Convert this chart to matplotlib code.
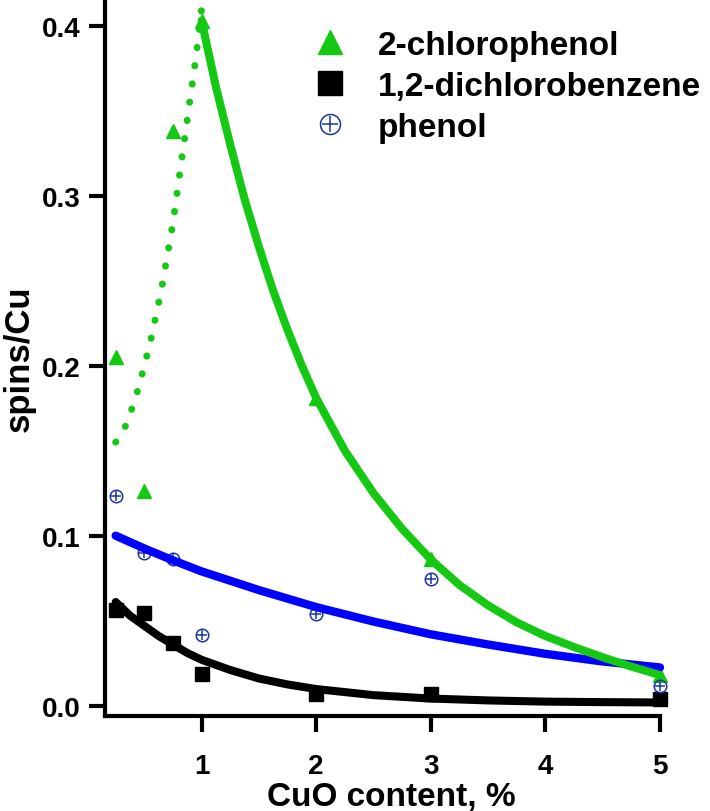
import matplotlib
matplotlib.use("Agg")
import matplotlib.pyplot as plt
from matplotlib.lines import Line2D
from matplotlib.legend_handler import HandlerTuple

plt.rcParams['font.family'] = ['Liberation Sans', 'DejaVu Sans']
plt.rcParams['font.weight'] = 'bold'

# measured data
x_pts = [0.25, 0.5, 0.75, 1, 2, 3, 5]
chlorophenol = [0.205, 0.126, 0.338, 0.403, 0.181, 0.086, 0.018]
dichlorobenzene = [0.0565, 0.0545, 0.037, 0.0186, 0.007, 0.007, 0.004]
phenol = [0.1235, 0.090, 0.0863, 0.0416, 0.054, 0.0745, 0.0114]

# fitted curves
cp_rise_x = [0.25, 0.35, 0.45, 0.55, 0.65, 0.75, 0.85, 0.95, 1.0]
cp_rise_y = [0.155, 0.166, 0.187, 0.213, 0.245, 0.284, 0.333, 0.381, 0.410]
cp_decay_x = [1.0, 1.125, 1.25, 1.375, 1.5, 1.625, 1.75, 1.875, 2.0, 2.25, 2.5,
              2.75, 3.0, 3.25, 3.5, 3.75, 4.0, 4.25, 4.5, 4.75, 5.0]
cp_decay_y = [0.403, 0.364, 0.330, 0.298, 0.270, 0.244, 0.221, 0.200, 0.181, 0.150,
              0.125, 0.104, 0.086, 0.071, 0.059, 0.049, 0.041, 0.0345, 0.0285, 0.023, 0.018]
ph_fit_x = [0.25, 0.5, 0.75, 1.0, 1.5, 2.0, 2.5, 3.0, 3.5, 4.0, 4.5, 5.0]
ph_fit_y = [0.100, 0.0925, 0.0855, 0.079, 0.068, 0.058, 0.0495, 0.042, 0.036, 0.0305, 0.026, 0.0225]
db_fit_x = [0.25, 0.375, 0.5, 0.625, 0.75, 0.875, 1.0, 1.25, 1.5, 1.75, 2.0, 2.5,
            3.0, 3.5, 4.0, 4.5, 5.0]
db_fit_y = [0.061, 0.053, 0.047, 0.041, 0.036, 0.031, 0.027, 0.021, 0.016, 0.0125,
            0.0098, 0.0062, 0.0042, 0.0031, 0.0024, 0.0021, 0.0019]

labels = ['2-chlorophenol', '1,2-dichlorobenzene', 'phenol']
x_ticks = [1, 2, 3, 4, 5]
y_ticks = [0.0, 0.1, 0.2, 0.3, 0.4]

GREEN = '#14c814'
BLUE_LINE = '#0000ff'
BLUE_MK = '#1a35a5'

fig = plt.figure(figsize=(7.1, 8.12), dpi=100)
ax = fig.add_axes([105/710, 1 - 717/812, 555/710, 717/812])

# markers
ax.plot(x_pts, chlorophenol, ls='none', marker='^', ms=10.5, color=GREEN, clip_on=False, zorder=2)
ax.plot(x_pts, dichlorobenzene, ls='none', marker='s', ms=10.5, color='black', clip_on=False, zorder=2)
ax.plot(x_pts, phenol, ls='none', marker='o', ms=9, mfc='none', mec=BLUE_MK, mew=1.1, clip_on=False, zorder=2)
ax.plot(x_pts, phenol, ls='none', marker='+', ms=7, mec=BLUE_MK, mew=1.1, clip_on=False, zorder=2)

# fitted lines
ax.plot(db_fit_x, db_fit_y, color='black', lw=5.8, solid_capstyle='round', zorder=3, clip_on=False)
ax.plot(ph_fit_x, ph_fit_y, color=BLUE_LINE, lw=6.0, solid_capstyle='round', zorder=4, clip_on=False)
ax.plot(cp_decay_x, cp_decay_y, color=GREEN, lw=5.8, solid_capstyle='round', zorder=5, clip_on=False)
ax.plot(cp_rise_x, cp_rise_y, color=GREEN, lw=5.0, ls=(0, (0.05, 2.6)),
        dash_capstyle='round', zorder=5, clip_on=False)

ax.set_xlim(0.157, 5.0)
ax.set_ylim(-0.00606, 0.4157)
ax.set_xticks(x_ticks)
ax.set_xticklabels([str(v) for v in x_ticks])
ax.set_yticks(y_ticks)
ax.set_yticklabels([f'{v:.1f}' for v in y_ticks])

for s in ['top', 'right']:
    ax.spines[s].set_visible(False)
for s in ['left', 'bottom']:
    ax.spines[s].set_linewidth(3.0)
ax.tick_params(axis='both', width=3.0, length=11.5, labelsize=20)
ax.tick_params(axis='y', pad=6)
ax.tick_params(axis='x', pad=15)
for lab in ax.get_xticklabels() + ax.get_yticklabels():
    lab.set_fontweight('bold')

ax.set_xlabel('CuO content, %', fontsize=24, fontweight='bold')
ax.xaxis.set_label_coords((391.5 - 105) / 555, -0.09)
ax.set_ylabel('spins/Cu', fontsize=25, fontweight='bold')
ax.yaxis.set_label_coords(-0.124, 0.5)

h1 = Line2D([], [], ls='none', marker='^', ms=10.5, color=GREEN)
h2 = Line2D([], [], ls='none', marker='s', ms=10.5, color='black')
h3a = Line2D([], [], ls='none', marker='o', ms=9, mfc='none', mec=BLUE_MK, mew=1.1)
h3b = Line2D([], [], ls='none', marker='+', ms=7, mec=BLUE_MK, mew=1.1)
leg = fig.legend([h1, h2, (h3a, h3b)], labels, loc='upper left',
                 bbox_to_anchor=(313.5/710, 1 - 31/812), bbox_transform=fig.transFigure,
                 frameon=False, markerscale=1.6, handlelength=1.0,
                 handletextpad=0.92, labelspacing=0.3, borderpad=0, borderaxespad=0,
                 handler_map={tuple: HandlerTuple(ndivide=1)},
                 prop={'weight': 'bold', 'size': 24})

fig.savefig('out.png', dpi=100)
